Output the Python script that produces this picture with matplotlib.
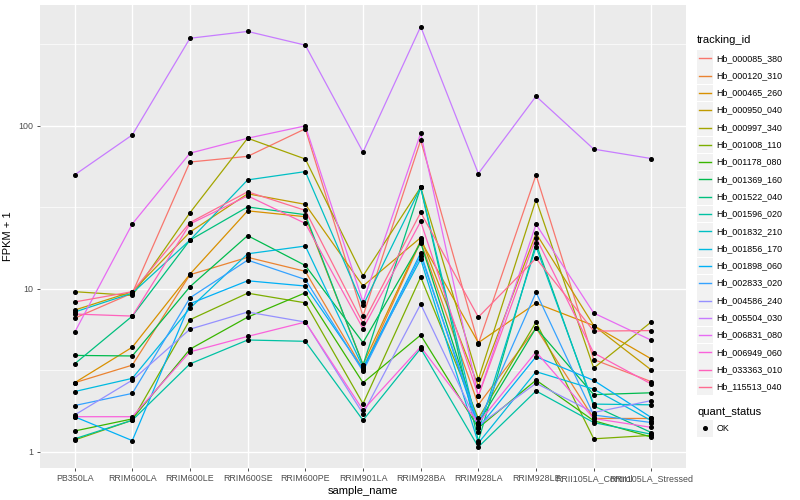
import matplotlib
matplotlib.use("Agg")
import matplotlib.pyplot as plt
from matplotlib.lines import Line2D
from matplotlib.patches import Rectangle
import numpy as np

plt.rcParams.update({'font.family': ['Liberation Sans', 'DejaVu Sans']})

samples = ['PB350LA', 'RRIM600LA', 'RRIM600LE', 'RRIM600SE', 'RRIM600PE', 'RRIM901LA',
           'RRIM928BA', 'RRIM928LA', 'RRIM928LE', 'RRII105LA_Control', 'RRII105LA_Stressed']

tracking_ids = ['Hb_000085_380', 'Hb_000120_310', 'Hb_000465_260', 'Hb_000950_040',
                'Hb_000997_340', 'Hb_001008_110', 'Hb_001178_080', 'Hb_001369_160',
                'Hb_001522_040', 'Hb_001596_020', 'Hb_001832_210', 'Hb_001856_170',
                'Hb_001898_060', 'Hb_002833_020', 'Hb_004586_240', 'Hb_005504_030',
                'Hb_006831_080', 'Hb_006949_060', 'Hb_033363_010', 'Hb_115513_040']

# ggplot default hue palette for 20 levels
colors = ['#F8766D', '#EA8331', '#D89000', '#C09B00', '#A3A500', '#7CAE00', '#39B600',
          '#00BB4E', '#00BF7D', '#00C1A3', '#00BFC4', '#00BAE0', '#00B0F6', '#35A2FF',
          '#9590FF', '#C77CFF', '#E76BF3', '#FA62DB', '#FF62BC', '#FF6C91']

# FPKM + 1 per tracking id
fpkm_000085_380 = [6.6, 9.4, 60, 65, 96, 6.8, 81.6, 4.6, 50, 3.68, 2.69]
fpkm_000120_310 = [2.65, 3.4, 12.2, 15.6, 12.8, 3.2, 19.5, 1.94, 5.75, 1.6, 1.6]
fpkm_000465_260 = [2.65, 4.38, 12.3, 30.1, 27.7, 3.43, 19.8, 4.67, 8.15, 5.95, 3.71]
fpkm_000950_040 = [7.4, 9.6, 22.3, 38.3, 33, 10.4, 20.6, 2.53, 21.9, 5.95, 3.17]
fpkm_000997_340 = [9.6, 9.1, 29.3, 84, 62.6, 12.0, 42, 2.78, 35.3, 3.26, 6.27]
fpkm_001008_110 = [1.18, 1.56, 6.46, 9.4, 8.2, 1.97, 11.8, 1.6, 6.25, 1.2, 1.26]
fpkm_001178_080 = [1.34, 1.59, 4.26, 6.7, 9.45, 2.65, 5.2, 1.4, 2.75, 1.55, 1.23]
fpkm_001369_160 = [3.9, 3.87, 10.3, 21.2, 13.9, 4.67, 19.2, 1.5, 5.75, 2.24, 2.30]
fpkm_001522_040 = [3.46, 6.8, 19.9, 31.8, 28.5, 3.4, 41.9, 1.16, 19.0, 1.91, 1.31]
fpkm_001596_020 = [1.2, 1.56, 3.46, 4.85, 4.76, 1.56, 4.3, 1.07, 2.36, 1.51, 1.28]
fpkm_001832_210 = [7.2, 9.4, 19.9, 46.6, 52.4, 7.9, 42, 1.33, 18.1, 1.96, 1.94]
fpkm_001856_170 = [2.34, 2.82, 7.6, 16.4, 18.3, 3.3, 15.2, 1.13, 3.1, 2.42, 1.55]
fpkm_001898_060 = [1.64, 1.17, 8.1, 11.2, 10.4, 3.2, 16.6, 1.4, 3.83, 2.74, 1.62]
fpkm_002833_020 = [1.92, 2.28, 8.8, 15.0, 11.4, 3.12, 16.0, 1.5, 9.5, 1.68, 1.51]
fpkm_004586_240 = [1.68, 2.75, 5.65, 7.2, 6.25, 1.71, 8.05, 1.45, 2.63, 1.74, 2.06]
fpkm_005504_030 = [50, 88, 345, 380, 313, 69, 407, 51, 152, 72, 63]
fpkm_006831_080 = [5.4, 25, 68, 84, 100, 8.3, 90, 2.2, 24.9, 7.1, 4.83]
fpkm_006949_060 = [1.64, 1.64, 4.1, 5.1, 6.25, 1.8, 4.4, 1.5, 4.1, 1.6, 1.41]
fpkm_033363_010 = [7.0, 6.8, 25, 37.2, 25.2, 5.7, 25.9, 2.2, 20.6, 4.04, 2.6]
fpkm_115513_040 = [8.3, 9.6, 25.5, 39.4, 30.3, 6.15, 29.4, 6.7, 15.4, 5.5, 5.54]

series = [fpkm_000085_380, fpkm_000120_310, fpkm_000465_260, fpkm_000950_040,
          fpkm_000997_340, fpkm_001008_110, fpkm_001178_080, fpkm_001369_160,
          fpkm_001522_040, fpkm_001596_020, fpkm_001832_210, fpkm_001856_170,
          fpkm_001898_060, fpkm_002833_020, fpkm_004586_240, fpkm_005504_030,
          fpkm_006831_080, fpkm_006949_060, fpkm_033363_010, fpkm_115513_040]

fig = plt.figure(figsize=(8, 5), dpi=100)
ax = fig.add_axes([0.05, 0.064, 0.8075, 0.926])
ax.set_facecolor('#EBEBEB')
for s in ax.spines.values():
    s.set_visible(False)

x = np.arange(len(samples))
for vals, c in zip(series, colors):
    ax.plot(x, vals, color=c, lw=0.9, zorder=3)
for vals in series:
    ax.plot(x, vals, 'o', color='black', markersize=2.6, zorder=4)

ax.set_yscale('log')
ax.set_ylim(10 ** -0.1, 10 ** 2.742)
ax.set_xlim(-0.6, len(samples) - 0.4)
ax.set_yticks([1, 10, 100])
ax.set_yticklabels(['1', '10', '100'])
ax.set_yticks([10 ** 0.5, 10 ** 1.5, 10 ** 2.5], minor=True)
ax.yaxis.set_minor_formatter(plt.NullFormatter())
ax.set_xticks(x)
ax.set_xticklabels(samples)
ax.grid(which='major', color='white', lw=1.0, zorder=0)
ax.grid(which='minor', axis='y', color='white', lw=0.5, zorder=0)
ax.set_axisbelow(True)
ax.tick_params(which='major', length=2.5, width=0.6, color='#333333', labelsize=6.4,
               labelcolor='#4D4D4D', pad=2)
ax.tick_params(which='minor', length=0)
ax.set_xlabel('sample_name', fontsize=8, labelpad=2)
ax.set_ylabel('FPKM + 1', fontsize=8, labelpad=4)

# legend drawn ggplot style on the right
fig.text(697 / 800, 1 - 40 / 500, 'tracking_id', fontsize=8, va='center', ha='left')
y0 = 58.3
step = 17.3
for i, (name, c) in enumerate(zip(tracking_ids, colors)):
    yc = y0 + i * step
    fig.patches.append(Rectangle((696.5 / 800, 1 - (yc + 8.3) / 500), 16.6 / 800, 16.6 / 500,
                                 transform=fig.transFigure, facecolor='#F2F2F2',
                                 edgecolor='none'))
    fig.lines.append(Line2D([698.5 / 800, 711 / 800], [1 - yc / 500, 1 - yc / 500],
                            transform=fig.transFigure, color=c, lw=1.0))
    fig.text(716.5 / 800, 1 - yc / 500, name, fontsize=6.4, va='center', ha='left')

fig.text(697 / 800, 1 - 411.7 / 500, 'quant_status', fontsize=8, va='center', ha='left')
yc = 428.3
fig.patches.append(Rectangle((696.5 / 800, 1 - (yc + 8.3) / 500), 16.6 / 800, 16.6 / 500,
                             transform=fig.transFigure, facecolor='#F2F2F2', edgecolor='none'))
fig.lines.append(Line2D([704.8 / 800], [1 - yc / 500], transform=fig.transFigure,
                        marker='o', color='black', markersize=2.6, linestyle='None'))
fig.text(716.5 / 800, 1 - yc / 500, 'OK', fontsize=6.4, va='center', ha='left')

plt.savefig('out.png', dpi=100)
